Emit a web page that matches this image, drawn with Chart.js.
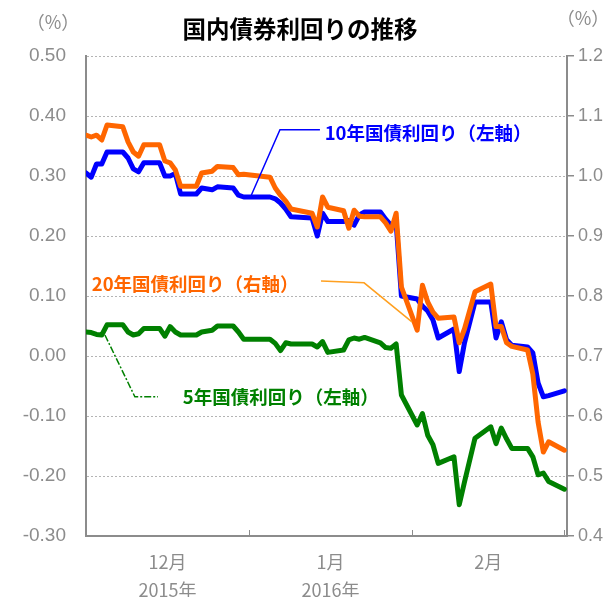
<!DOCTYPE html>
<html>
<head>
<meta charset="utf-8">
<script src="https://cdn.jsdelivr.net/npm/chart.js@4.4.1/dist/chart.umd.min.js"></script>
<style>
  html, body { margin: 0; padding: 0; background: #fff; }
  #wrap { width: 610px; height: 597px; }
</style>
</head>
<body>
<div id="wrap"><canvas id="grafico" width="610" height="597"></canvas></div>
<script>
// business days, 2015-11-30 .. 2016-02-29
const fechas = [
  '2015-11-30', '2015-12-01', '2015-12-02', '2015-12-03', '2015-12-04',
  '2015-12-07', '2015-12-08', '2015-12-09', '2015-12-10', '2015-12-11',
  '2015-12-14', '2015-12-15', '2015-12-16', '2015-12-17', '2015-12-18',
  '2015-12-21', '2015-12-22', '2015-12-24', '2015-12-25',
  '2015-12-28', '2015-12-29', '2015-12-30',
  '2016-01-04', '2016-01-05', '2016-01-06', '2016-01-07', '2016-01-08',
  '2016-01-12', '2016-01-13', '2016-01-14', '2016-01-15',
  '2016-01-18', '2016-01-19', '2016-01-20', '2016-01-21', '2016-01-22',
  '2016-01-25', '2016-01-26', '2016-01-27', '2016-01-28', '2016-01-29',
  '2016-02-01', '2016-02-02', '2016-02-03', '2016-02-04', '2016-02-05',
  '2016-02-08', '2016-02-09', '2016-02-10', '2016-02-12',
  '2016-02-15', '2016-02-16', '2016-02-17', '2016-02-18', '2016-02-19',
  '2016-02-22', '2016-02-23', '2016-02-24', '2016-02-25', '2016-02-26',
  '2016-02-29'
];

// 10年国債 (左軸, %)
const rend10 = [
  0.305, 0.298, 0.320, 0.320, 0.340,
  0.340, 0.330, 0.312, 0.307, 0.322,
  0.322, 0.300, 0.300, 0.304, 0.270,
  0.270, 0.280, 0.277, 0.282,
  0.280, 0.268, 0.265,
  0.265, 0.262, 0.255, 0.245, 0.232,
  0.230, 0.200, 0.238, 0.224,
  0.224, 0.226, 0.218, 0.235, 0.240,
  0.240, 0.228, 0.218, 0.222, 0.100,
  0.095, 0.083, 0.075, 0.060, 0.030,
  0.045, -0.026, 0.022, 0.090,
  0.090, 0.030, 0.057, 0.027, 0.018,
  0.015, 0.005, -0.045, -0.068, -0.066,
  -0.058
];

// 20年国債 (右軸, %)
const rend20 = [
  1.068, 1.065, 1.068, 1.060, 1.085,
  1.082, 1.057, 1.040, 1.033, 1.052,
  1.052, 1.025, 1.022, 1.010, 0.983,
  0.983, 1.005, 1.008, 1.016,
  1.014, 1.002, 1.003,
  0.998, 0.980, 0.968, 0.958, 0.945,
  0.938, 0.915, 0.965, 0.948,
  0.942, 0.913, 0.943, 0.933, 0.932,
  0.932, 0.922, 0.908, 0.938, 0.815,
  0.743, 0.818, 0.790, 0.773, 0.763,
  0.765, 0.722, 0.745, 0.807,
  0.820, 0.749, 0.749, 0.722, 0.716,
  0.710, 0.670, 0.590, 0.540, 0.557,
  0.543
];

// 5年国債 (左軸, %)
const rend5 = [
  0.040, 0.039, 0.036, 0.035, 0.052,
  0.052, 0.040, 0.035, 0.037, 0.046,
  0.046, 0.033, 0.049, 0.040, 0.035,
  0.035, 0.040, 0.043, 0.050,
  0.050, 0.040, 0.028,
  0.028, 0.021, 0.009, 0.022, 0.020,
  0.020, 0.015, 0.024, 0.006,
  0.010, 0.027, 0.030, 0.028, 0.031,
  0.022, 0.014, 0.013, 0.020, -0.065,
  -0.115, -0.096, -0.132, -0.148, -0.179,
  -0.168, -0.248, -0.210, -0.137,
  -0.118, -0.146, -0.120, -0.138, -0.154,
  -0.154, -0.168, -0.198, -0.195, -0.209,
  -0.222
];

const ticksIzq = [-0.3, -0.2, -0.1, 0, 0.1, 0.2, 0.3, 0.4, 0.5];
const ticksDer = [0.4, 0.5, 0.6, 0.7, 0.8, 0.9, 1.0, 1.1, 1.2];
const meses = [['12月', '2015年'], ['1月', '2016年'], ['2月']];
const finesDeMes = ['2015-12-31', '2016-01-31', '2016-02-29'];

const DIA = 86400000;
const base = Date.parse(fechas[0]);
const diaDe = f => (Date.parse(f) - base) / DIA;
const dias = fechas.map(diaDe);
const puntos = serie => serie.map((v, i) => ({ x: dias[i], y: v }));

// month centres for the labels, month ends for the small ticks
const limites = [0].concat(finesDeMes.map(diaDe));
const centros = meses.map((m, i) => (limites[i] + limites[i + 1]) / 2);

const GRIS = '#8c8c8c';
const JP = '"Noto Sans CJK JP", "Noto Sans", sans-serif';
const NUM = '"Liberation Sans", Arial, sans-serif';

const notas = {
  id: 'notas',
  afterDatasetsDraw(chart) {
    const { ctx, chartArea, scales: { x, y } } = chart;
    const px = d => x.getPixelForValue(d);
    const py = v => y.getPixelForValue(v);
    ctx.save();

    // marcas hacia dentro en el eje x
    ctx.strokeStyle = GRIS;
    ctx.lineWidth = 1;
    limites.slice(1).forEach(d => {
      ctx.beginPath();
      ctx.moveTo(Math.round(px(d)) + 0.5, chartArea.bottom);
      ctx.lineTo(Math.round(px(d)) + 0.5, chartArea.bottom - 6);
      ctx.stroke();
    });

    // lineas guia
    ctx.lineWidth = 1.5;
    ctx.strokeStyle = '#0000ff';
    ctx.beginPath();
    ctx.moveTo(px(31.4), py(0.267));
    ctx.lineTo(px(36.9), py(0.377));
    ctx.lineTo(px(44.5), py(0.377));
    ctx.stroke();

    ctx.strokeStyle = '#ffa020';
    ctx.beginPath();
    ctx.moveTo(px(44.7), py(0.125));
    ctx.lineTo(px(52.9), py(0.122));
    ctx.lineTo(px(62.0), py(0.057));
    ctx.stroke();

    ctx.strokeStyle = '#008000';
    ctx.setLineDash([7, 2, 2, 2]);
    ctx.beginPath();
    ctx.moveTo(px(3.6), py(0.035));
    ctx.lineTo(px(9.3), py(-0.068));
    ctx.lineTo(px(13.7), py(-0.068));
    ctx.stroke();
    ctx.setLineDash([]);

    // textos de las series
    ctx.font = 'bold 18.5px ' + JP;
    ctx.textBaseline = 'middle';
    ctx.textAlign = 'left';
    ctx.fillStyle = '#0000ff';
    ctx.fillText('10年国債利回り（左軸）', px(45.4), py(0.372));
    ctx.fillStyle = '#ff6600';
    ctx.fillText('20年国債利回り（右軸）', px(1.1), py(0.12));
    ctx.fillStyle = '#008000';
    ctx.fillText('5年国債利回り（左軸）', px(18.4), py(-0.068));

    // titulo y unidades
    ctx.fillStyle = '#000';
    ctx.textAlign = 'center';
    ctx.font = 'bold 23.5px ' + JP;
    ctx.fillText('国内債券利回りの推移', 300, 29);
    ctx.fillStyle = GRIS;
    ctx.font = '18px ' + JP;
    ctx.fillText('（%）', 53, 22);
    ctx.fillText('（%）', 583, 18);
    ctx.restore();
  }
};

const ctx = document.getElementById('grafico').getContext('2d');
new Chart(ctx, {
  type: 'line',
  data: {
    datasets: [
      { label: '10年国債利回り（左軸）', data: puntos(rend10), yAxisID: 'y', borderColor: '#0000ff', order: 2 },
      { label: '20年国債利回り（右軸）', data: puntos(rend20), yAxisID: 'y2', borderColor: '#ff6600', order: 1 },
      { label: '5年国債利回り（左軸）', data: puntos(rend5), yAxisID: 'y', borderColor: '#008000', order: 3 }
    ]
  },
  options: {
    responsive: false,
    animation: false,
    layout: { padding: { top: 56, left: 0, right: 0, bottom: 0 } },
    elements: {
      point: { radius: 0 },
      line: { borderWidth: 5, tension: 0, fill: false, borderJoinStyle: 'round', borderCapStyle: 'round' }
    },
    plugins: { legend: { display: false }, tooltip: { enabled: false } },
    scales: {
      x: {
        type: 'linear',
        min: 0,
        max: 91.5,
        afterBuildTicks: s => { s.ticks = centros.map(v => ({ value: v })); },
        afterFit: s => { s.height = 61; },
        ticks: {
          autoSkip: false,
          maxRotation: 0,
          padding: 4,
          color: GRIS,
          font: { family: JP, size: 18, lineHeight: 1.55 },
          callback: (v, i) => meses[i]
        },
        grid: { display: false },
        border: { color: GRIS, width: 2 }
      },
      y: {
        position: 'left',
        min: -0.3,
        max: 0.5,
        afterBuildTicks: s => { s.ticks = ticksIzq.map(v => ({ value: v })); },
        afterFit: s => { s.width = 86; },
        ticks: {
          padding: 20,
          color: GRIS,
          font: { family: NUM, size: 19 },
          callback: v => v.toFixed(2)
        },
        grid: { color: '#b4b4b4', lineWidth: 1, drawTicks: false },
        border: { color: GRIS, width: 2, dash: [2, 2] }
      },
      y2: {
        position: 'right',
        min: 0.4,
        max: 1.2,
        afterBuildTicks: s => { s.ticks = ticksDer.map(v => ({ value: v })); },
        afterFit: s => { s.width = 43; },
        ticks: {
          padding: 4,
          color: GRIS,
          font: { family: NUM, size: 18 },
          callback: v => v.toFixed(1)
        },
        grid: { drawOnChartArea: false, tickLength: 7, color: GRIS, lineWidth: 1.5 },
        border: { color: GRIS, width: 2 }
      }
    }
  },
  plugins: [notas]
});
</script>
</body>
</html>
